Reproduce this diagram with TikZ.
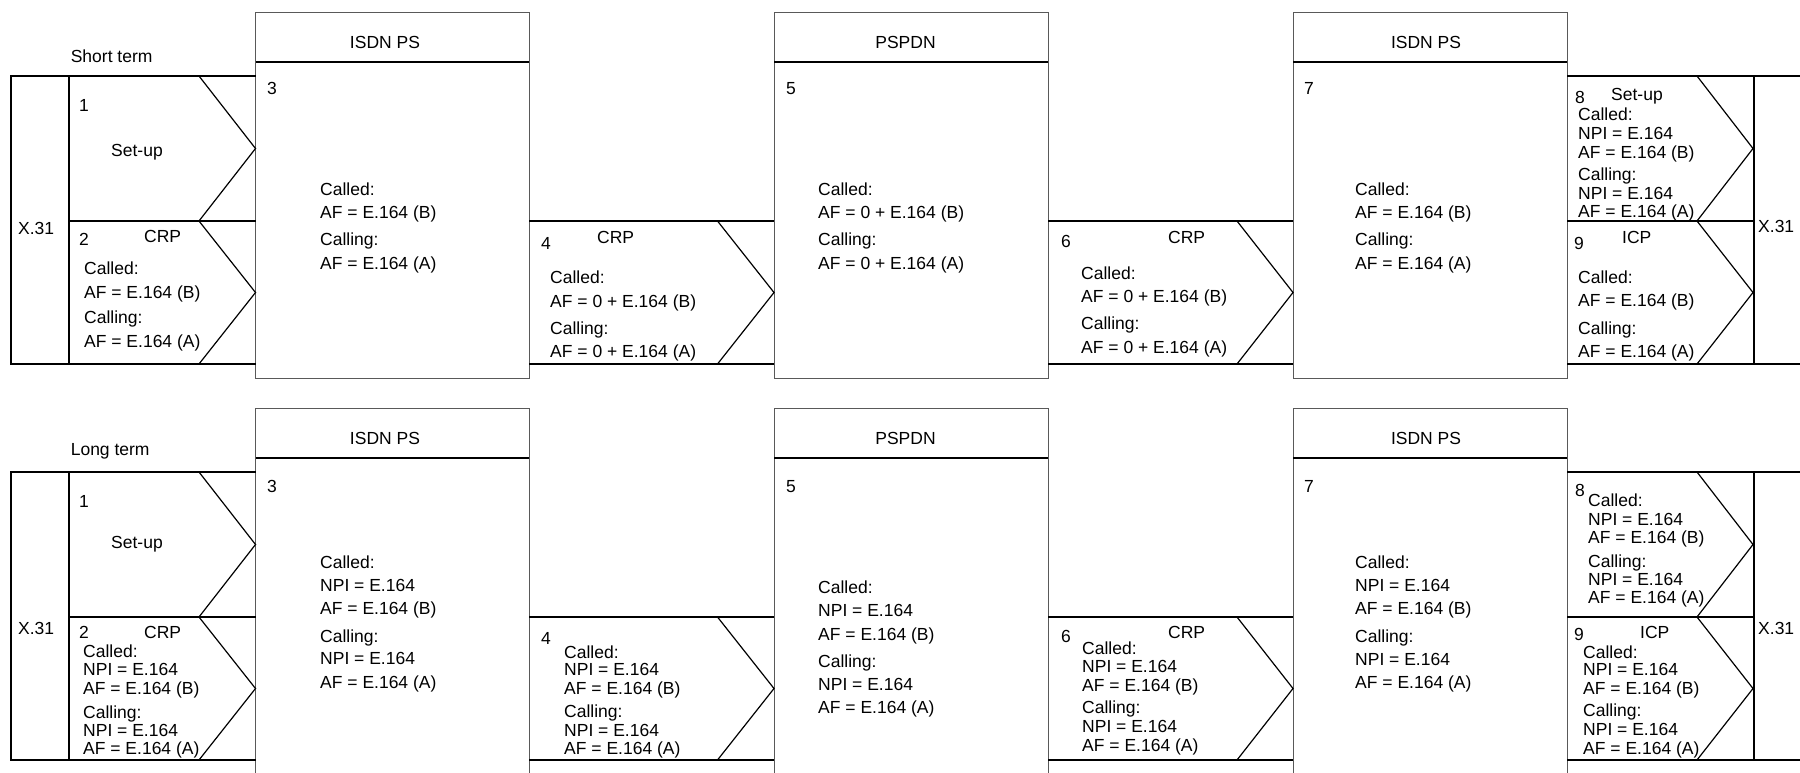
\documentclass[tikz,border=0pt]{standalone}
\usepackage{fontspec}
\setmainfont{Liberation Sans}
\newcommand\myblock[3]{%
  \foreach \yy/\tx [count=\i] in {#3} {\node[txt] (#1\i) at (#2,\yy) {\tx};}}
\begin{document}
\begin{tikzpicture}[x=1pt,y=-1pt,
  txt/.style={anchor=base west,inner sep=0pt,font=\fontsize{17.5}{20}\selectfont},
  ctxt/.style={txt,anchor=base},
  reg/.style={line width=2pt},
  boxl/.style={line width=1pt,draw=black!65},
  chev/.style={line width=1.2pt,line join=miter}]
\useasboundingbox (0,0) rectangle (1800,772);
\clip (0,0) rectangle (1800,772);

\foreach \dy in {0,396} {
\begin{scope}[shift={(0,\dy)}]
  % network boxes
  \draw[boxl] (255.5,12) rectangle (529,378);
  \draw[reg] (255.5,62) -- (529,62);
  \draw[boxl] (774,12) rectangle (1048,378);
  \draw[reg] (774,62) -- (1048,62);
  \draw[boxl] (1293,12) rectangle (1567,378);
  \draw[reg] (1293,62) -- (1567,62);
  % left X.31 region
  \draw[reg] (255.5,76) -- (10.7,76) -- (10.7,364) -- (255.5,364);
  \draw[reg] (69,76) -- (69,364);
  \draw[reg] (69,221) -- (255.5,221);
  \draw[chev] (199,76) -- (255.5,148.5) -- (199,221) -- (255.5,292.5) -- (199,364);
  % region 4
  \draw[reg] (529,221) -- (774,221);
  \draw[reg] (529,364) -- (774,364);
  \draw[chev] (717.5,221) -- (774,292.5) -- (717.5,364);
  % region 6
  \draw[reg] (1048,221) -- (1293,221);
  \draw[reg] (1048,364) -- (1293,364);
  \draw[chev] (1237,221) -- (1293,292.5) -- (1237,364);
  % right X.31 region
  \draw[reg] (1567,76) -- (1800,76);
  \draw[reg] (1567,364) -- (1800,364);
  \draw[reg] (1567,221) -- (1754,221);
  \draw[reg] (1754,76) -- (1754,364);
  \draw[chev] (1697,76) -- (1753,148.5) -- (1697,221) -- (1753,292.5) -- (1697,364);
\end{scope}
}

% ---------------- Short term ----------------
\node[txt] (st) at (70.6,62) {Short term};
\node[txt] (a1) at (79,111) {1};
\node[ctxt] (asu) at (137,156) {Set-up};
\node[txt] (ax1) at (18,234) {X.31};
\node[txt] (a2) at (79,245) {2};
\node[txt] (acrp2) at (144,242) {CRP};
\myblock{ar2}{84}{274/Called:,298/AF = E.164 (B),323/Calling:,347/AF = E.164 (A)}
\node[txt] (a3) at (267,94) {3};
\node[ctxt] (ah3) at (385,48) {ISDN PS};
\myblock{ab3}{320}{195/Called:,218/AF = E.164 (B),245/Calling:,269/AF = E.164 (A)}
\node[txt] (a4) at (541,249) {4};
\node[txt] (acrp4) at (597,243) {CRP};
\myblock{ar4}{550}{283/Called:,307/AF = 0 + E.164 (B),334/Calling:,357/AF = 0 + E.164 (A)}
\node[txt] (a5) at (786,94) {5};
\node[ctxt] (ah5) at (905.5,48) {PSPDN};
\myblock{ab5}{818}{195/Called:,218/AF = 0 + E.164 (B),245/Calling:,269/AF = 0 + E.164 (A)}
\node[txt] (a6) at (1061,247) {6};
\node[txt] (acrp6) at (1168,243) {CRP};
\myblock{ar6}{1081}{279/Called:,302/AF = 0 + E.164 (B),329/Calling:,353/AF = 0 + E.164 (A)}
\node[txt] (a7) at (1304,94) {7};
\node[ctxt] (ah7) at (1426,48) {ISDN PS};
\myblock{ab7}{1355}{195/Called:,218/AF = E.164 (B),245/Calling:,269/AF = E.164 (A)}
\node[txt] (a8) at (1575,103) {8};
\node[txt] (asu8) at (1611,100) {Set-up};
\myblock{ar8}{1578}{120/Called:,139/NPI = E.164,158/AF = E.164 (B),180/Calling:,199/NPI = E.164,217/AF = E.164 (A)}
\node[txt] (a9) at (1574,249) {9};
\node[txt] (aicp) at (1622,243) {ICP};
\myblock{ar9}{1578}{283/Called:,306/AF = E.164 (B),334/Calling:,357/AF = E.164 (A)}
\node[txt] (ax2) at (1758,232) {X.31};

% ---------------- Long term ----------------
\node[txt] (lt) at (70.6,455) {Long term};
\node[txt] (b1) at (79,507) {1};
\node[ctxt] (bsu) at (137,548) {Set-up};
\node[txt] (bx1) at (18,634) {X.31};
\node[txt] (b2) at (79,638) {2};
\node[txt] (bcrp2) at (144,638) {CRP};
\myblock{br2}{83}{657/Called:,675/NPI = E.164,694/AF = E.164 (B),718/Calling:,736/NPI = E.164,754/AF = E.164 (A)}
\node[txt] (b3) at (267,492) {3};
\node[ctxt] (bh3) at (385,444) {ISDN PS};
\myblock{bb3}{320}{568/Called:,591/NPI = E.164,614/AF = E.164 (B),642/Calling:,664/NPI = E.164,688/AF = E.164 (A)}
\node[txt] (b4) at (541,644) {4};
\myblock{br4}{564}{658/Called:,675/NPI = E.164,694/AF = E.164 (B),717/Calling:,736/NPI = E.164,754/AF = E.164 (A)}
\node[txt] (b5) at (786,492) {5};
\node[ctxt] (bh5) at (905.5,444) {PSPDN};
\myblock{bb5}{818}{593/Called:,616/NPI = E.164,640/AF = E.164 (B),667/Calling:,690/NPI = E.164,713/AF = E.164 (A)}
\node[txt] (b6) at (1061,642) {6};
\node[txt] (bcrp6) at (1168,638) {CRP};
\myblock{br6}{1082}{654/Called:,672/NPI = E.164,691/AF = E.164 (B),713/Calling:,732/NPI = E.164,751/AF = E.164 (A)}
\node[txt] (b7) at (1304,492) {7};
\node[ctxt] (bh7) at (1426,444) {ISDN PS};
\myblock{bb7}{1355}{568/Called:,591/NPI = E.164,614/AF = E.164 (B),642/Calling:,665/NPI = E.164,688/AF = E.164 (A)}
\node[txt] (b8) at (1575,496) {8};
\myblock{br8}{1588}{506/Called:,525/NPI = E.164,543/AF = E.164 (B),567/Calling:,585/NPI = E.164,603/AF = E.164 (A)}
\node[txt] (b9) at (1574,640) {9};
\node[txt] (bicp) at (1640,638) {ICP};
\myblock{br9}{1583}{658/Called:,675/NPI = E.164,694/AF = E.164 (B),716/Calling:,735/NPI = E.164,754/AF = E.164 (A)}
\node[txt] (bx2) at (1758,634) {X.31};
\end{tikzpicture}
\end{document}
